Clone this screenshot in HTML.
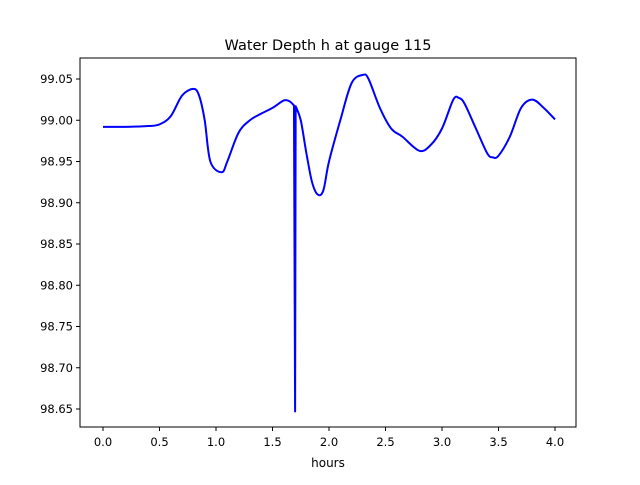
<!DOCTYPE html>
<html><head><meta charset="utf-8"><style>
body{margin:0;background:#fff;}
svg text{font-family:"DejaVu Sans","Liberation Sans",sans-serif;}
</style></head><body>
<svg id="chart" width="640" height="480" xmlns="http://www.w3.org/2000/svg">
<rect width="640" height="480" fill="#fff"/>
<text x="328" y="50" font-size="14.5" text-anchor="middle">Water Depth h at gauge 115</text>
<g id="plot"></g>
<rect x="80" y="58" width="496" height="369" fill="none" stroke="#000" stroke-width="1"/>
<text x="328" y="467" font-size="12" text-anchor="middle">hours</text>
</svg>
<script>
const times=[0,0.2,0.4,0.5,0.6,0.7,0.8,0.85,0.9,0.95,1.05,1.1,1.2,1.3,1.4,1.5,1.6,1.65,1.69,1.70,1.705,1.75,1.8,1.85,1.9,1.95,2.0,2.1,2.2,2.3,2.35,2.45,2.55,2.65,2.8,2.9,3.0,3.1,3.15,3.2,3.3,3.4,3.45,3.5,3.6,3.7,3.8,3.9,4.0];
const depth=[98.992,98.992,98.993,98.995,99.005,99.03,99.038,99.03,99.0,98.95,98.937,98.95,98.985,99.0,99.008,99.015,99.024,99.023,99.018,98.647,99.017,99.0,98.96,98.925,98.91,98.915,98.95,99.0,99.045,99.055,99.05,99.015,98.99,98.98,98.963,98.97,98.99,99.025,99.027,99.02,98.99,98.96,98.955,98.957,98.98,99.015,99.025,99.015,99.001];
const xTicks=[0,0.5,1,1.5,2,2.5,3,3.5,4];
const xTickLabels=["0.0","0.5","1.0","1.5","2.0","2.5","3.0","3.5","4.0"];
const yTicks=[98.65,98.7,98.75,98.8,98.85,98.9,98.95,99.0,99.05];
const yTickLabels=["98.65","98.70","98.75","98.80","98.85","98.90","98.95","99.00","99.05"];
const X=v=>103+v*113;
const Y=v=>79+(99.05-v)*825;
const NS="http://www.w3.org/2000/svg";
const g=document.getElementById('plot');
function mk(t,a){const e=document.createElementNS(NS,t);for(const k in a)e.setAttribute(k,a[k]);g.appendChild(e);return e;}
xTicks.forEach((v,i)=>{
 const l=mk('line',{x1:X(v),x2:X(v),y1:427,y2:431,stroke:'#000'});
 
 
 const t=mk('text',{x:X(v),y:446,'font-size':11.5,'text-anchor':'middle'});t.textContent=xTickLabels[i];
 
 
});
yTicks.forEach((v,i)=>{
 const l=mk('line',{x1:76,x2:80,y1:Y(v),y2:Y(v),stroke:'#000'});
 
 
 const t=mk('text',{x:73,y:Y(v)+4,'font-size':11.5,'text-anchor':'end'});t.textContent=yTickLabels[i];
 
 
});
// find spike (minimum) and keep it sharp; smooth other segments with Catmull-Rom
const pts=times.map((t,i)=>[X(t),Y(depth[i])]);
let si=0;depth.forEach((d,i)=>{if(d<depth[si])si=i;});
function cr(seg){
 let d='';
 for(let i=0;i<seg.length-1;i++){
  const p0=seg[Math.max(0,i-1)],p1=seg[i],p2=seg[i+1],p3=seg[Math.min(seg.length-1,i+2)];
  const c1=[p1[0]+(p2[0]-p0[0])/6,p1[1]+(p2[1]-p0[1])/6];
  const c2=[p2[0]-(p3[0]-p1[0])/6,p2[1]-(p3[1]-p1[1])/6];
  d+=' C'+c1[0]+','+c1[1]+' '+c2[0]+','+c2[1]+' '+p2[0]+','+p2[1];
 }
 return d;
}
const A=pts.slice(0,si),B=pts.slice(si+1);
let d='M'+A[0][0]+','+A[0][1]+cr(A)+' L'+pts[si][0]+','+pts[si][1]+' L'+B[0][0]+','+B[0][1]+cr(B);
const p=mk('path',{d:d,fill:'none',stroke:'#0000ff','stroke-width':2,'stroke-linejoin':'round'});


</script>
</body></html>
